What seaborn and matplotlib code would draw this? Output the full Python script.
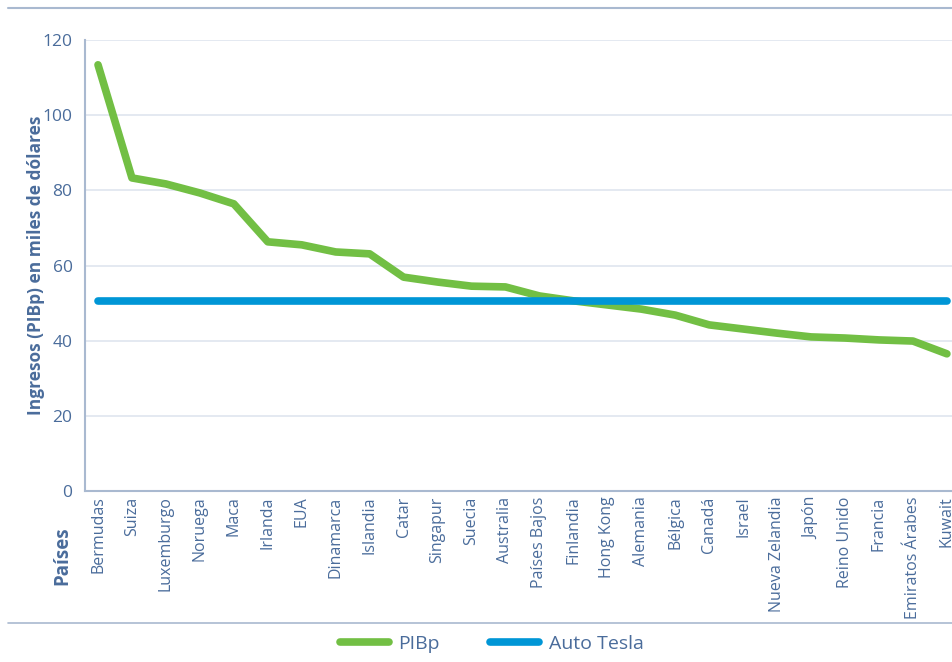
import pandas as pd
import seaborn as sns
import matplotlib.pyplot as plt
from matplotlib.lines import Line2D

# Data
paises = ["Bermudas", "Suiza", "Luxemburgo", "Noruega", "Maca", "Irlanda", "EUA",
          "Dinamarca", "Islandia", "Catar", "Singapur", "Suecia", "Australia",
          "Países Bajos", "Finlandia", "Hong Kong", "Alemania", "Bélgica", "Canadá",
          "Israel", "Nueva Zelandia", "Japón", "Reino Unido", "Francia",
          "Emiratos Árabes", "Kuwait"]
pibp = [113.4, 83.3, 81.7, 79.3, 76.4, 66.3, 65.5, 63.6, 63.1, 56.9, 55.6, 54.5, 54.3,
        51.9, 50.6, 49.5, 48.4, 46.8, 44.2, 43.1, 42.0, 41.0, 40.7, 40.2, 39.9, 36.5]
auto_tesla = [50.5] * len(paises)
y_ticks = [0, 20, 40, 60, 80, 100, 120]

TXT = "#4a6c9b"
GREEN = "#72bf44"
BLUE = "#0096d6"
GRID = "#dfe5ef"
SPINE = "#a9b9d0"

sns.set_theme(style="white")
plt.rcParams['font.family'] = ['Open Sans', 'DejaVu Sans']

df = pd.DataFrame({"pais": paises, "idx": range(len(paises)),
                   "PIBp": pibp, "Auto Tesla": auto_tesla})

fig = plt.figure(figsize=(9.53, 6.62), dpi=100)
ax = fig.add_axes([85 / 953, 1 - 491 / 662, 1 - 85 / 953, 451 / 662])

sns.lineplot(data=df, x="idx", y="Auto Tesla", ax=ax, color=BLUE, linewidth=5.5,
             solid_capstyle="round", zorder=3)
sns.lineplot(data=df, x="idx", y="PIBp", ax=ax, color=GREEN, linewidth=5.5,
             solid_capstyle="round", zorder=2)

ax.set_ylim(0, 120)
ax.set_xlim(-0.383, 25.18)
ax.set_yticks(y_ticks)
ax.set_yticklabels([str(v) for v in y_ticks], color=TXT, fontsize=12.5)
ax.set_xticks(range(len(paises)))
ax.set_xticklabels(paises, rotation=90, color=TXT, fontsize=11.5, va="top", ha="center")
ax.tick_params(axis="y", length=0, pad=9)
ax.tick_params(axis="x", length=0, pad=4)
ax.yaxis.grid(True, color=GRID, linewidth=1.2)
ax.set_axisbelow(True)
for s in ["top", "right"]:
    ax.spines[s].set_visible(False)
for s in ["left", "bottom"]:
    ax.spines[s].set_color(SPINE)
    ax.spines[s].set_linewidth(1.5)

ax.set_xlabel("")
ax.set_ylabel("Ingresos (PIBp) en miles de dólares", color=TXT, fontsize=12.5,
              fontweight="bold")
ax.yaxis.set_label_coords((36 - 85) / 868, 0.5)
ax.yaxis.label.set_va("center")
fig.text(62 / 953, 1 - 556 / 662, "Países", rotation=90, color=TXT, fontsize=13.5,
         fontweight="bold", ha="center", va="center")

# frame lines at top and bottom
fig.add_artist(Line2D([8 / 953, 1], [1 - 8 / 662] * 2, color=SPINE, linewidth=1.5))
fig.add_artist(Line2D([8 / 953, 1], [1 - 623 / 662] * 2, color=SPINE, linewidth=1.2))

handles = [Line2D([], [], color=GREEN, linewidth=5.5, solid_capstyle="round"),
           Line2D([], [], color=BLUE, linewidth=5.5, solid_capstyle="round")]
fig.legend(handles, ["PIBp", "Auto Tesla"], loc="center",
           bbox_to_anchor=(0.516, 1 - 644 / 662),
           ncol=2, frameon=False, fontsize=14, labelcolor=TXT, handlelength=2.5,
           columnspacing=2.6, handletextpad=0.5)

fig.savefig("out.png", dpi=100)
